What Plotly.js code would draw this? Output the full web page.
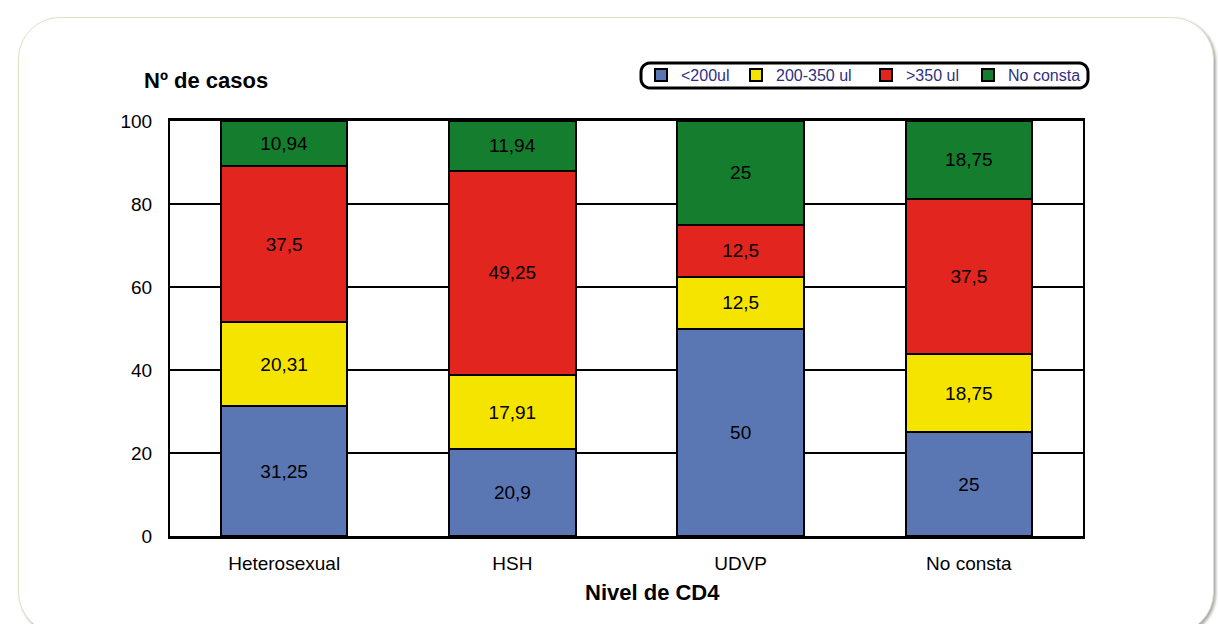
<!DOCTYPE html>
<html><head><meta charset="utf-8">
<script src="https://cdn.plot.ly/plotly-3.0.1.min.js"></script>
<style>
html,body{margin:0;padding:0;background:#fff;width:1218px;height:624px;overflow:hidden;}
#frame{position:absolute;left:18px;top:17px;width:1194px;height:615px;border:1.5px solid #d6e4c2;border-radius:42px;box-shadow:2px 2px 3px #aaa;background:#fff;}
#chart{position:absolute;left:0;top:0;width:1218px;height:624px;}
</style></head>
<body>
<div id="frame"></div>
<div id="chart"></div>
<script>
const categories = ["Heterosexual", "HSH", "UDVP", "No consta"];
const seriesNames = ["<200ul", "200-350 ul", ">350 ul", "No consta"];
const below200 = [31.25, 20.9, 50, 25];
const from200to350 = [20.31, 17.91, 12.5, 18.75];
const above350 = [37.5, 49.25, 12.5, 37.5];
const noConsta = [10.94, 11.94, 25, 18.75];
const colors = ["#5b77b3", "#f5e400", "#e2261f", "#157d2e"];

const allSeries = [below200, from200to350, above350, noConsta];
const fmt = v => String(v).replace('.', ',');
const legendIds = ['legend', 'legend2', 'legend3', 'legend4'];

const traces = allSeries.map((vals, i) => ({
  type: 'bar',
  name: seriesNames[i],
  legend: legendIds[i],
  x: categories,
  y: vals,
  text: vals.map(fmt),
  textposition: 'inside',
  insidetextanchor: 'middle',
  constraintext: 'none',
  textangle: 0,
  textfont: {family: 'Liberation Sans, Arial, sans-serif', size: 19, color: '#000'},
  marker: {color: colors[i], line: {color: '#000', width: 2}},
  hoverinfo: 'none'
}));

const L = 170, R = 1083, T = 121, B = 536;
const px = v => (v - L) / (R - L);
const py = v => (B - v) / (B - T);

function roundRect(x0, y0, x1, y1, r) {
  const pts = [];
  const corner = (cx, cy, a0) => {
    for (let k = 0; k <= 6; k++) {
      const a = (a0 + k * 15) * Math.PI / 180;
      pts.push([px(cx + r * Math.cos(a)), py(cy + r * Math.sin(a))]);
    }
  };
  corner(x1 - r, y0 + r, 270);
  corner(x1 - r, y1 - r, 0);
  corner(x0 + r, y1 - r, 90);
  corner(x0 + r, y0 + r, 180);
  return 'M ' + pts.map(p => p[0] + ' ' + p[1]).join(' L ') + ' Z';
}

const legendLeft = [641, 736, 866, 968];

const layout = {
  width: 1218, height: 624,
  paper_bgcolor: 'rgba(0,0,0,0)',
  plot_bgcolor: '#fff',
  margin: {l: L, r: 1218 - R, t: T, b: 624 - B, autoexpand: false},
  barmode: 'stack',
  bargap: 0.445,
  font: {family: 'Liberation Sans, Arial, sans-serif', size: 19, color: '#000'},
  showlegend: true,
  xaxis: {
    type: 'category',
    showline: true, linecolor: '#000', linewidth: 3, mirror: true,
    showgrid: false, ticks: '', ticklabelstandoff: 8,
    tickfont: {size: 19}
  },
  yaxis: {
    range: [0, 100],
    tickvals: [0, 20, 40, 60, 80, 100],
    showline: true, linecolor: '#000', linewidth: 2, mirror: true,
    showgrid: true, gridcolor: '#000', gridwidth: 2,
    zeroline: false, ticks: '', ticklabelstandoff: 12,
    tickfont: {size: 19}
  },
  shapes: [{
    type: 'path', xref: 'paper', yref: 'paper', layer: 'above',
    path: roundRect(641, 63, 1088, 88, 9),
    line: {color: '#000', width: 3}
  }],
  annotations: [
    {text: '<b>Nº de casos</b>', xref: 'paper', yref: 'paper', x: px(206), y: py(80),
     xanchor: 'center', yanchor: 'middle', showarrow: false,
     font: {size: 22, color: '#000'}},
    {text: '<b>Nivel de CD4</b>', xref: 'paper', yref: 'paper', x: px(652), y: py(592),
     xanchor: 'center', yanchor: 'middle', showarrow: false,
     font: {size: 22, color: '#000'}}
  ]
};

legendIds.forEach((id, i) => {
  layout[id] = {
    orientation: 'h',
    x: px(legendLeft[i]), xanchor: 'left',
    y: py(75), yanchor: 'middle',
    bgcolor: 'rgba(0,0,0,0)',
    borderwidth: 0,
    font: {family: 'Liberation Sans, Arial, sans-serif', size: 16, color: '#2e3180'},
    itemclick: false
  };
});

Plotly.newPlot('chart', traces, layout, {displayModeBar: false, staticPlot: true});
</script>
</body></html>
